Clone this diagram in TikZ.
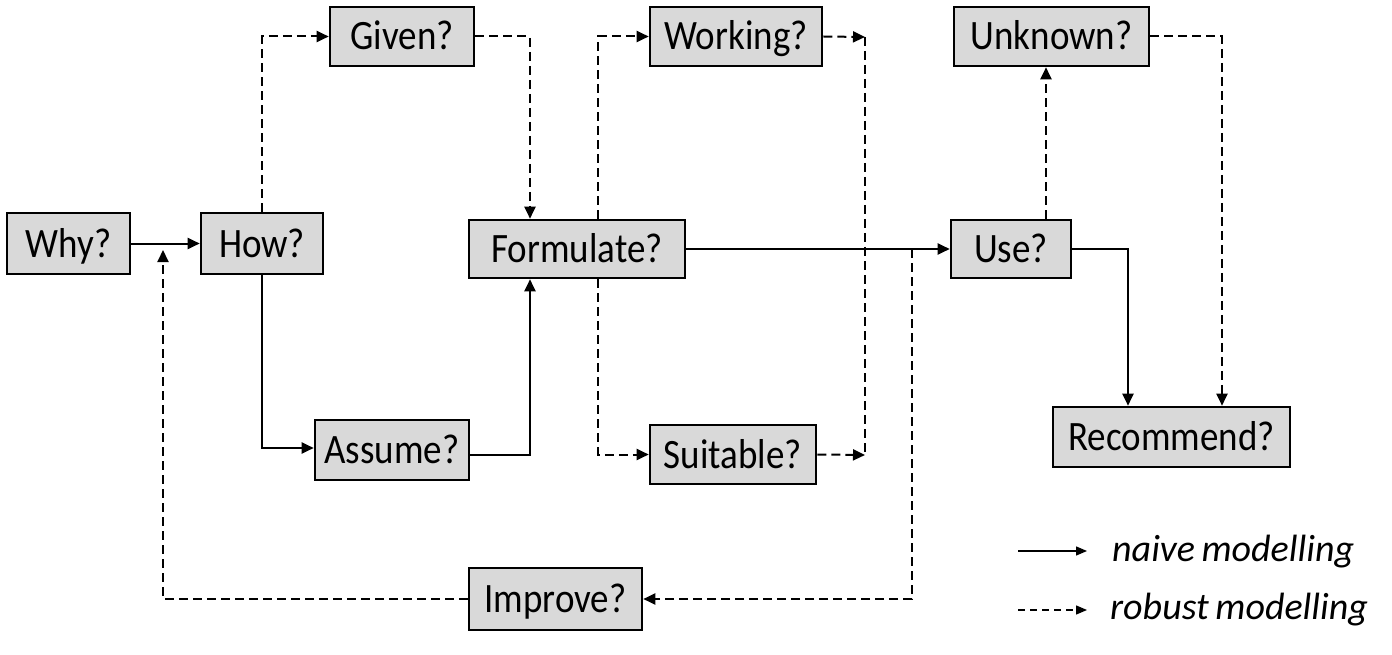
\documentclass[tikz,border=0pt]{standalone}
\usepackage{fontspec}
\setmainfont{Carlito}
\newfontfamily\boxfont[FakeStretch=0.885]{Carlito}
\usetikzlibrary{arrows.meta}
\definecolor{boxgray}{HTML}{D9D9D9}
\begin{document}
\begin{tikzpicture}[x=1pt,y=-1pt,
  box/.style={draw, line width=2.6pt, fill=boxgray, inner sep=0pt,
    text height=27pt, text depth=0pt,
    font=\boxfont\fontsize{41.8}{44}\selectfont},
  tip/.style={-{Triangle[length=12pt,width=11pt]}},
  naive/.style={line width=2pt, tip},
  robust/.style={line width=2pt, dash pattern=on 9pt off 5pt, tip},
  dline/.style={line width=2pt, dash pattern=on 9pt off 5pt},
  legtxt/.style={inner sep=0pt, anchor=base west, font=\fontsize{38}{40}\selectfont\itshape}]
\useasboundingbox (0,0) rectangle (1392,655);

\node[box, minimum width=123pt, minimum height=61pt] (why) at (68.5,243.5) {Why?};
\node[box, minimum width=122pt, minimum height=61pt] (how) at (262,243.5) {How?};
\node[box, minimum width=144pt, minimum height=59pt] (given) at (402,36.5) {Given?};
\node[box, minimum width=216pt, minimum height=58pt] (formulate) at (577,249) {Formulate?};
\node[box, minimum width=172pt, minimum height=59pt] (working) at (736,36.5) {Working?};
\node[box, minimum width=195pt, minimum height=59pt] (unknown) at (1051.5,36.5) {Unknown?};
\node[box, minimum width=120pt, minimum height=58pt] (use) at (1011,249) {Use?};
\node[box, minimum width=154pt, minimum height=60pt] (assume) at (392,450) {Assume?};
\node[box, minimum width=166pt, minimum height=59pt] (suitable) at (733,454.5) {Suitable?};
\node[box, minimum width=237pt, minimum height=60pt] (recommend) at (1171.5,437) {Recommend?};
\node[box, minimum width=173pt, minimum height=62pt] (improve) at (555.5,599) {Improve?};

\coordinate (m1) at (865,37);
\coordinate (m2) at (865,455);
\coordinate (j) at (912,249);
\coordinate (k) at (163,250);

% naive connectors
\draw[naive] (why) -- (how);
\draw[naive] (how.south) |- ([yshift=2pt]assume.west);
\draw[naive] ([yshift=-5pt]assume.east) -| ([xshift=-47pt]formulate.south);
\draw[naive] (formulate) -- (use);
\draw[naive] (use.east) -| ([xshift=-43.5pt]recommend.north);

% robust connectors
\draw[robust] (how.north) |- (given.west);
\draw[robust] (given.east) -| ([xshift=-47pt]formulate.north);
\draw[robust] ([xshift=21pt]formulate.north) |- (working.west);
\draw[robust] ([xshift=21pt]formulate.south) |- (suitable.west);
\draw[robust] (working.east) -- (m1);
\draw[robust] (suitable.east) -- (m2);
\draw[dline] (m1) -- (m2);
\draw[robust] (j) |- (improve.east);
\draw[robust] (improve.west) -| (k);
\draw[robust] ([xshift=35pt]use.north) -- ([xshift=35pt]use.north |- unknown.south);
\draw[robust] (unknown.east) -| ([xshift=50.5pt]recommend.north);

% legend
\coordinate (la1) at (1018,551);
\coordinate (la2) at (1087,551);
\coordinate (lb1) at (1018,610);
\coordinate (lb2) at (1087,610);
\draw[line width=1.3pt, -{Triangle[length=11pt,width=9pt]}] (la1) -- (la2);
\draw[line width=1.3pt, dash pattern=on 7pt off 5pt, -{Triangle[length=11pt,width=9pt]}] (lb1) -- (lb2);
\node[legtxt] (naivetxt) at (1112,561) {naive\hspace{-2pt} modelling};
\node[legtxt] (robusttxt) at (1110,619) {robust\hspace{-2pt} modelling};
\end{tikzpicture}
\end{document}
